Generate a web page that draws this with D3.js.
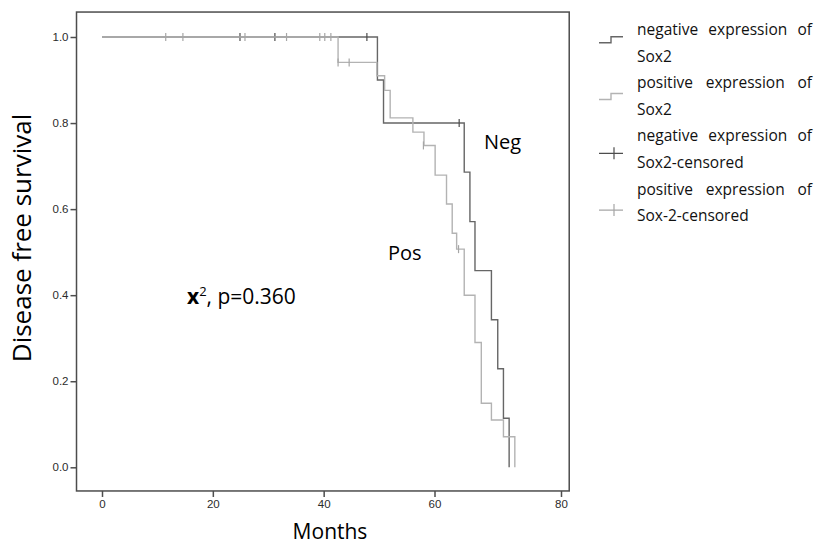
<!DOCTYPE html>
<html>
<head>
<meta charset="utf-8">
<script src="https://cdn.jsdelivr.net/npm/d3@7"></script>
<style>
  body { margin: 0; background: #fff; }
  svg { display: block; }
</style>
</head>
<body>
<div id="chart"></div>
<script>
// Kaplan-Meier steps: months and survival after each drop
const negTimes = [0, 49.7, 50.8, 64.7, 65.6, 66.4, 69.0, 70.0, 70.9, 71.8];
const negSurv  = [1, 0.9, 0.8, 0.686, 0.571, 0.457, 0.343, 0.229, 0.114, 0];
const posTimes = [0, 42.6, 49.6, 51.0, 52.0, 56.1, 58.1, 60.1, 61.9, 62.8, 63.5, 64.7, 66.4, 67.4, 69.0, 70.9, 72.7];
const posSurv  = [1, 0.941, 0.91, 0.876, 0.812, 0.779, 0.748, 0.679, 0.612, 0.544, 0.507, 0.4, 0.29, 0.149, 0.11, 0.071, 0];

// censored cases
const negCensTimes = [24.9, 31.2, 47.8, 63.9];
const negCensSurv  = [1, 1, 1, 0.8];
const posCensTimes = [11.5, 14.6, 25.8, 33.3, 39.3, 40.2, 41.3, 42.6, 44.6, 58.0, 63.8];
const posCensSurv  = [1, 1, 1, 1, 1, 1, 1, 0.941, 0.941, 0.748, 0.507];

const xTicks = [0, 20, 40, 60, 80];
const yTicks = [0, 0.2, 0.4, 0.6, 0.8, 1.0];

const legendItems = [
    ["negative expression of", "Sox2"],
    ["positive expression of", "Sox2"],
    ["negative expression of", "Sox2-censored"],
    ["positive expression of", "Sox-2-censored"]
];

const width = 816, height = 545;
const negColor = '#666', posColor = '#b3b3b3',
      negCensColor = '#4d4d4d', posCensColor = '#a6a6a6',
      frameColor = '#4d4d4d';

const svg = d3.select('#chart').append('svg')
    .attr('width', width)
    .attr('height', height);

// the x axis of the picture is not evenly spaced past 60
const x = d3.scaleLinear().domain([0, 60, 80]).range([102, 434.5, 561]);
const y = d3.scaleLinear().domain([0, 1]).range([467.3, 37]);

const frame = { x0: x(-4.6), x1: x(81.3), y0: y(1.058), y1: y(-0.055) };

svg.append('rect')
    .attr('x', frame.x0)
    .attr('y', frame.y0)
    .attr('width', frame.x1 - frame.x0)
    .attr('height', frame.y1 - frame.y0)
    .attr('fill', 'none')
    .attr('stroke', frameColor)
    .attr('stroke-width', 1.5);

const yAxis = svg.append('g')
    .attr('transform', `translate(${frame.x0},0)`)
    .call(d3.axisLeft(y).tickValues(yTicks).tickFormat(d3.format('.1f')).tickSize(6).tickPadding(2));

const xAxis = svg.append('g')
    .attr('transform', `translate(0,${frame.y1})`)
    .call(d3.axisBottom(x).tickValues(xTicks).tickSize(6).tickPadding(3));

[yAxis, xAxis].forEach(g => {
    g.select('.domain').remove();
    g.selectAll('.tick line').attr('stroke', frameColor).attr('stroke-width', 1.5);
    g.selectAll('.tick text')
        .attr('fill', '#2b2b2b')
        .style('font-family', '"Liberation Sans", Arial, sans-serif')
        .style('font-size', '11.5px');
});

// curves
const step = d3.line()
    .x(d => x(d[0]))
    .y(d => y(d[1]))
    .curve(d3.curveStepAfter);

function drawCurve(times, surv, color) {
    svg.append('path')
        .datum(times.map((t, i) => [t, surv[i]]))
        .attr('d', step)
        .attr('fill', 'none')
        .attr('stroke', color)
        .attr('stroke-width', 1.4);
}

function drawCensors(times, surv, color) {
    svg.append('g')
        .selectAll('line')
        .data(times.map((t, i) => [t, surv[i]]))
        .join('line')
        .attr('x1', d => x(d[0]))
        .attr('x2', d => x(d[0]))
        .attr('y1', d => y(d[1]) - 4)
        .attr('y2', d => y(d[1]) + 4)
        .attr('stroke', color)
        .attr('stroke-width', 1.2);
}

drawCurve(negTimes, negSurv, negColor);
drawCensors(negCensTimes, negCensSurv, negCensColor);
drawCurve(posTimes, posSurv, posColor);
drawCensors(posCensTimes, posCensSurv, posCensColor);

// annotations
const bodyFont = '"Open Sans", "Noto Sans", sans-serif';

svg.append('text')
    .attr('x', 484).attr('y', 149)
    .style('font-family', bodyFont).style('font-size', '20px')
    .text('Neg');

svg.append('text')
    .attr('x', 388).attr('y', 260)
    .style('font-family', bodyFont).style('font-size', '20px')
    .text('Pos');

const stat = svg.append('text')
    .attr('x', 187).attr('y', 304)
    .style('font-family', bodyFont).style('font-size', '21px');
stat.append('tspan').style('font-weight', 'bold').text('x');
stat.append('tspan').attr('dy', -8).style('font-size', '13px').text('2');
stat.append('tspan').attr('dy', 8).text(', p=0.360');

// axis titles
svg.append('text')
    .attr('transform', 'translate(31,238) rotate(-90)')
    .attr('text-anchor', 'middle')
    .style('font-family', bodyFont).style('font-size', '26px')
    .text('Disease free survival');

svg.append('text')
    .attr('x', 330)
    .attr('y', 539)
    .attr('text-anchor', 'middle')
    .style('font-family', bodyFont).style('font-size', '21px')
    .text('Months');

// legend
const legX = 637, legRight = 812, legTop = 35, legStep = 26.6;
const legend = svg.append('g')
    .style('font-family', bodyFont)
    .style('font-size', '15.5px')
    .attr('fill', '#111');

legendItems.forEach((item, i) => {
    const base = legTop + i * 2 * legStep;
    // first line is justified between legX and legRight
    const words = item[0].split(' ');
    const nodes = words.map(w => legend.append('text').attr('y', base).text(w));
    const widths = nodes.map(n => n.node().getComputedTextLength());
    const gap = (legRight - legX - d3.sum(widths)) / (words.length - 1);
    let cx = legX;
    nodes.forEach((n, k) => { n.attr('x', cx); cx += widths[k] + gap; });

    legend.append('text')
        .attr('x', legX)
        .attr('y', base + legStep)
        .text(item[1]);

    const my = 39.7 + i * 56.8;
    if (i < 2) {
        legend.append('path')
            .attr('d', `M599,${my + 3}H611V${my - 3}H623`)
            .attr('fill', 'none')
            .attr('stroke', i === 0 ? negColor : posColor)
            .attr('stroke-width', 1.4);
    } else {
        legend.append('path')
            .attr('d', `M599,${my}H623M614,${my - 6}V${my + 6}`)
            .attr('fill', 'none')
            .attr('stroke', i === 2 ? negCensColor : posCensColor)
            .attr('stroke-width', 1.2);
    }
});
</script>
</body>
</html>
